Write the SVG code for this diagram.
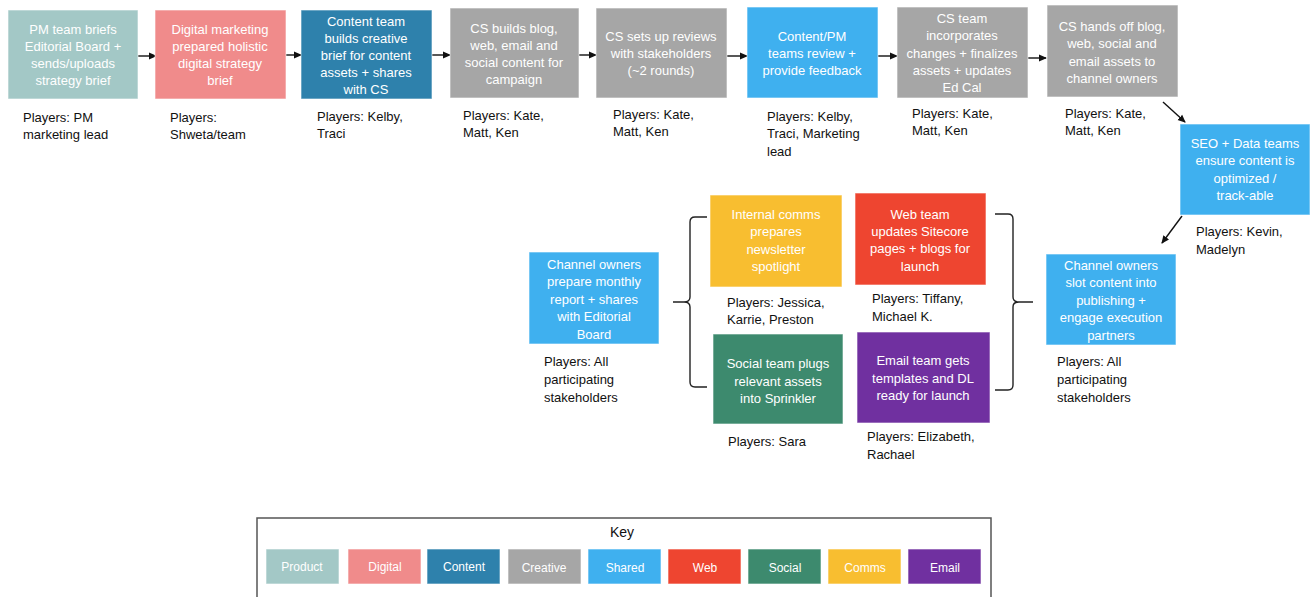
<svg xmlns="http://www.w3.org/2000/svg" width="1313" height="597" viewBox="0 0 1313 597">
  <style>
    .box { stroke: #ffffff; stroke-opacity: 0.6; stroke-width: 1; }
    .bt { font-family: "Liberation Sans", Arial, sans-serif; font-size: 13px; fill: #ffffff; text-anchor: middle; }
    .pl { font-family: "Liberation Sans", Arial, sans-serif; font-size: 13px; fill: #111111; }
    .conn { stroke: #111111; stroke-width: 1.4; fill: none; }
    .brace { stroke: #222222; stroke-width: 1.4; fill: none; }
    .product { fill: #a3c8c6; }
    .digital { fill: #f08b8b; }
    .content { fill: #2e81ac; }
    .creative { fill: #a6a6a6; }
    .shared { fill: #3fb0ef; }
    .web { fill: #ee4530; }
    .social { fill: #3d8a6e; }
    .comms { fill: #f8be30; }
    .email { fill: #7030a0; }
    .kt { font-family: "Liberation Sans", Arial, sans-serif; font-size: 12px; fill: #ffffff; text-anchor: middle; }
  </style>
  <defs>
    <marker id="arrow" markerWidth="8" markerHeight="8" refX="7" refY="4" orient="auto" markerUnits="userSpaceOnUse">
      <path d="M0,0.5 L8,4 L0,7.5 Z" fill="#111111"/>
    </marker>
  </defs>

  <rect width="1313" height="597" fill="#ffffff"/>

  <!-- connectors -->
  <g id="connectors">
    <line class="conn" x1="134" y1="56" x2="156" y2="56" marker-end="url(#arrow)"/>
    <line class="conn" x1="280" y1="55" x2="301" y2="55" marker-end="url(#arrow)"/>
    <line class="conn" x1="432" y1="55" x2="450" y2="55" marker-end="url(#arrow)"/>
    <line class="conn" x1="578" y1="55" x2="596" y2="55" marker-end="url(#arrow)"/>
    <line class="conn" x1="723" y1="56" x2="747" y2="56" marker-end="url(#arrow)"/>
    <line class="conn" x1="870" y1="56" x2="897" y2="56" marker-end="url(#arrow)"/>
    <line class="conn" x1="1022" y1="58" x2="1046" y2="58" marker-end="url(#arrow)"/>
    <line class="conn" x1="1163" y1="102" x2="1185" y2="122" marker-end="url(#arrow)"/>
    <line class="conn" x1="1182" y1="216" x2="1162" y2="243" marker-end="url(#arrow)"/>
    <!-- left brace -->
    <path class="brace" d="M707,217 L695,217 Q690,217 690,222 L690,297 Q690,302 684,302 L673,302 M684,302 Q690,302 690,307 L690,382 Q690,387 695,387 L707,387"/>
    <!-- right brace -->
    <path class="brace" d="M995,214 L1008,214 Q1013,214 1013,219 L1013,297 Q1013,302 1019,302 L1033,302 M1019,302 Q1013,302 1013,307 L1013,385 Q1013,390 1008,390 L995,390"/>
  </g>

  <!-- top row -->
  <g id="node-pm-brief">
    <rect class="box product" x="8" y="10" width="130" height="89"/>
    <text class="bt" x="73"><tspan x="73" y="34">PM team briefs</tspan><tspan x="73" y="51">Editorial Board +</tspan><tspan x="73" y="68">sends/uploads</tspan><tspan x="73" y="85">strategy brief</tspan></text>
    <text class="pl"><tspan x="23" y="122">Players: PM</tspan><tspan x="23" y="139">marketing lead</tspan></text>
  </g>

  <g id="node-digital-brief">
    <rect class="box digital" x="155" y="10" width="131" height="89"/>
    <text class="bt"><tspan x="220" y="34">Digital marketing</tspan><tspan x="220" y="51">prepared holistic</tspan><tspan x="220" y="68">digital strategy</tspan><tspan x="220" y="85">brief</tspan></text>
    <text class="pl"><tspan x="170" y="122">Players:</tspan><tspan x="170" y="139">Shweta/team</tspan></text>
  </g>

  <g id="node-creative-brief">
    <rect class="box content" x="301" y="10" width="131" height="89"/>
    <text class="bt"><tspan x="366" y="26">Content team</tspan><tspan x="366" y="43">builds creative</tspan><tspan x="366" y="60">brief for content</tspan><tspan x="366" y="77">assets + shares</tspan><tspan x="366" y="94">with CS</tspan></text>
    <text class="pl"><tspan x="317" y="121">Players: Kelby,</tspan><tspan x="317" y="138">Traci</tspan></text>
  </g>

  <g id="node-cs-builds">
    <rect class="box creative" x="450" y="8" width="129" height="90"/>
    <text class="bt"><tspan x="514" y="33">CS builds blog,</tspan><tspan x="514" y="50">web, email and</tspan><tspan x="514" y="67">social content for</tspan><tspan x="514" y="84">campaign</tspan></text>
    <text class="pl"><tspan x="463" y="120">Players: Kate,</tspan><tspan x="463" y="137">Matt, Ken</tspan></text>
  </g>

  <g id="node-cs-reviews">
    <rect class="box creative" x="596" y="8" width="131" height="90"/>
    <text class="bt"><tspan x="661" y="41">CS sets up reviews</tspan><tspan x="661" y="58">with stakeholders</tspan><tspan x="661" y="75">(~2 rounds)</tspan></text>
    <text class="pl"><tspan x="613" y="119">Players: Kate,</tspan><tspan x="613" y="136">Matt, Ken</tspan></text>
  </g>

  <g id="node-review-feedback">
    <rect class="box shared" x="747" y="7" width="131" height="91"/>
    <text class="bt"><tspan x="812" y="41">Content/PM</tspan><tspan x="812" y="58">teams review +</tspan><tspan x="812" y="75">provide feedback</tspan></text>
    <text class="pl"><tspan x="767" y="121">Players: Kelby,</tspan><tspan x="767" y="138">Traci, Marketing</tspan><tspan x="767" y="156">lead</tspan></text>
  </g>

  <g id="node-cs-finalizes">
    <rect class="box creative" x="897" y="7" width="131" height="91"/>
    <text class="bt"><tspan x="962" y="23">CS team</tspan><tspan x="962" y="40">incorporates</tspan><tspan x="962" y="58">changes + finalizes</tspan><tspan x="962" y="75">assets + updates</tspan><tspan x="962" y="92">Ed Cal</tspan></text>
    <text class="pl"><tspan x="912" y="118">Players: Kate,</tspan><tspan x="912" y="135">Matt, Ken</tspan></text>
  </g>

  <g id="node-cs-handoff">
    <rect class="box creative" x="1047" y="5" width="131" height="92"/>
    <text class="bt"><tspan x="1112" y="31">CS hands off blog,</tspan><tspan x="1112" y="48">web, social and</tspan><tspan x="1112" y="66">email assets to</tspan><tspan x="1112" y="83">channel owners</tspan></text>
    <text class="pl"><tspan x="1065" y="118">Players: Kate,</tspan><tspan x="1065" y="135">Matt, Ken</tspan></text>
  </g>

  <g id="node-seo-data">
    <rect class="box shared" x="1180" y="124" width="130" height="91"/>
    <text class="bt"><tspan x="1245" y="148">SEO + Data teams</tspan><tspan x="1245" y="165">ensure content is</tspan><tspan x="1245" y="183">optimized /</tspan><tspan x="1245" y="200">track-able</tspan></text>
    <text class="pl"><tspan x="1196" y="236">Players: Kevin,</tspan><tspan x="1196" y="254">Madelyn</tspan></text>
  </g>

  <!-- middle row -->
  <g id="node-channel-slot">
    <rect class="box shared" x="1046" y="254" width="130" height="91"/>
    <text class="bt"><tspan x="1111" y="270">Channel owners</tspan><tspan x="1111" y="287">slot content into</tspan><tspan x="1111" y="305">publishing +</tspan><tspan x="1111" y="322">engage execution</tspan><tspan x="1111" y="340">partners</tspan></text>
    <text class="pl"><tspan x="1057" y="366">Players: All</tspan><tspan x="1057" y="384">participating</tspan><tspan x="1057" y="402">stakeholders</tspan></text>
  </g>

  <g id="node-web-team">
    <rect class="box web" x="855" y="193" width="131" height="92"/>
    <text class="bt"><tspan x="920" y="219">Web team</tspan><tspan x="920" y="236">updates Sitecore</tspan><tspan x="920" y="253">pages + blogs for</tspan><tspan x="920" y="271">launch</tspan></text>
    <text class="pl"><tspan x="872" y="303">Players: Tiffany,</tspan><tspan x="872" y="321">Michael K.</tspan></text>
  </g>

  <g id="node-email-team">
    <rect class="box email" x="857" y="332" width="133" height="91"/>
    <text class="bt"><tspan x="923" y="365">Email team gets</tspan><tspan x="923" y="383">templates and DL</tspan><tspan x="923" y="400">ready for launch</tspan></text>
    <text class="pl"><tspan x="867" y="441">Players: Elizabeth,</tspan><tspan x="867" y="459">Rachael</tspan></text>
  </g>

  <g id="node-internal-comms">
    <rect class="box comms" x="710" y="195" width="132" height="92"/>
    <text class="bt"><tspan x="776" y="219">Internal comms</tspan><tspan x="776" y="236">prepares</tspan><tspan x="776" y="254">newsletter</tspan><tspan x="776" y="271">spotlight</tspan></text>
    <text class="pl"><tspan x="727" y="307">Players: Jessica,</tspan><tspan x="727" y="324">Karrie, Preston</tspan></text>
  </g>

  <g id="node-social-team">
    <rect class="box social" x="713" y="334" width="130" height="90"/>
    <text class="bt"><tspan x="778" y="368">Social team plugs</tspan><tspan x="778" y="386">relevant assets</tspan><tspan x="778" y="403">into Sprinkler</tspan></text>
    <text class="pl"><tspan x="728" y="446">Players: Sara</tspan></text>
  </g>

  <g id="node-monthly-report">
    <rect class="box shared" x="529" y="252" width="130" height="92"/>
    <text class="bt"><tspan x="594" y="269">Channel owners</tspan><tspan x="594" y="286">prepare monthly</tspan><tspan x="594" y="304">report + shares</tspan><tspan x="594" y="321">with Editorial</tspan><tspan x="594" y="339">Board</tspan></text>
    <text class="pl"><tspan x="544" y="366">Players: All</tspan><tspan x="544" y="384">participating</tspan><tspan x="544" y="402">stakeholders</tspan></text>
  </g>

  <!-- legend -->
  <g id="key">
    <rect x="257" y="518" width="734" height="90" fill="#ffffff" stroke="#555555" stroke-width="1.5"/>
    <text x="622" y="537" font-family="'Liberation Sans', Arial, sans-serif" font-size="14" fill="#111111" text-anchor="middle">Key</text>
    <rect class="box product" x="266" y="549" width="73" height="35"/><text class="kt" x="302" y="571">Product</text>
    <rect class="box digital" x="348" y="549" width="73" height="35"/><text class="kt" x="385" y="571">Digital</text>
    <rect class="box content" x="427" y="549" width="73" height="35"/><text class="kt" x="464" y="571">Content</text>
    <rect class="box creative" x="508" y="549" width="73" height="35"/><text class="kt" x="544" y="572">Creative</text>
    <rect class="box shared" x="588" y="549" width="73" height="35"/><text class="kt" x="625" y="572">Shared</text>
    <rect class="box web" x="668" y="549" width="73" height="35"/><text class="kt" x="705" y="572">Web</text>
    <rect class="box social" x="748" y="549" width="73" height="35"/><text class="kt" x="785" y="572">Social</text>
    <rect class="box comms" x="828" y="549" width="73" height="35"/><text class="kt" x="865" y="572">Comms</text>
    <rect class="box email" x="908" y="549" width="73" height="35"/><text class="kt" x="945" y="572">Email</text>
  </g>
</svg>
